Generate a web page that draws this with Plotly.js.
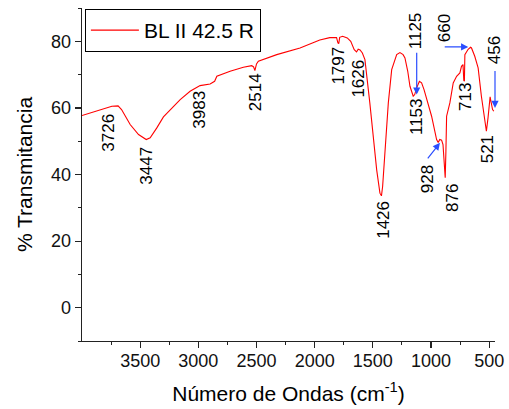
<!DOCTYPE html>
<html>
<head>
<meta charset="utf-8">
<script src="https://cdn.plot.ly/plotly-3.0.1.min.js"></script>
<style>html,body{margin:0;padding:0;background:#fff;}#chart{width:509px;height:409px;}</style>
</head>
<body>
<div id="chart"></div>
<script>
// Spectrum: wavenumber (cm-1) and transmittance (%)
const wavenumber = [4000,3872,3743,3690,3660,3586,3514,3448,3414,3357,3300,3156,3071,2985,2899,2860,2841,2727,2613,2541,2525,2514,2500,2484,2326,2126,1956,1870,1812,1800,1793,1785,1760,1720,1690,1660,1640,1626,1610,1590,1568,1526,1496,1467,1439,1426,1416,1396,1367,1338,1295,1267,1240,1224,1200,1181,1160,1153,1140,1124,1100,1081,1060,1038,995,952,938,925,909,897,885,878,872,866,838,809,780,752,738,725,718,713,709,681,660,652,624,595,567,540,524,510,500,492,485,471,460];
const transmittance = [57.7,59.0,60.5,60.6,59.5,55.0,52.0,50.5,51.0,54.0,57.3,62.5,65.0,66.7,67.2,68.0,69.5,71.0,72.2,72.7,72.3,71.2,73.2,74.0,76.0,78.0,80.4,81.1,81.1,79.5,79.3,81.2,81.5,81.0,80.0,77.5,76.8,77.6,77.4,76.5,74.5,61.5,51.4,41.4,34.4,33.6,36.4,46.4,61.5,71.5,76.0,76.6,76.0,75.0,71.0,66.5,63.8,63.5,64.0,66.0,68.0,67.5,65.5,63.0,57.5,50.5,49.6,50.5,50.3,49.0,42.0,39.0,47.0,57.5,61.5,67.5,69.5,70.5,72.5,73.0,68.2,68.0,76.0,77.6,78.2,78.0,75.5,72.0,63.5,56.0,53.0,57.0,61.0,63.3,62.0,59.5,59.0];
const seriesName = "BL II 42.5 R";

// Peak labels
const peakLabels = ["3726","3447","3983","2514","1797","1626","1426","1153","1125","928","876","660","713","521","456"];
const peakLabelX = [3775,3443,2993,2508,1791,1619,1404,1125,1138,1031,816,889,704,515,460];
const peakLabelY = [52.6,42.6,59.5,64.6,72.7,68.8,26.4,57.4,83.3,38.7,33.1,83.9,63.4,47.7,77.3];

// Blue arrows (tail -> head)
const arrowTailX = [1123,895,450,1038];
const arrowTailY = [77.0,78.3,71.5,44.4];
const arrowHeadX = [1123,680,450,923];
const arrowHeadY = [64.0,78.3,60.0,49.5];

const xTicks = [3500,3000,2500,2000,1500,1000,500];
const xMinor = [3750,3250,2750,2250,1750,1250,750];
const yTicks = [0,20,40,60,80];
const yMinor = [-10,10,30,50,70,90];

const FONT = "Arial, 'Liberation Sans', sans-serif";

const annotations = [];
peakLabels.forEach((t,i)=>{
  annotations.push({x:peakLabelX[i], y:peakLabelY[i], xref:'x', yref:'y', text:t, showarrow:false,
    textangle:-90, font:{family:FONT, size:17, color:'#000'}});
});
arrowTailX.forEach((_,i)=>{
  annotations.push({x:arrowHeadX[i], y:arrowHeadY[i], xref:'x', yref:'y', ax:arrowTailX[i], ay:arrowTailY[i],
    axref:'x', ayref:'y', text:'', showarrow:true, arrowhead:2, arrowsize:1.2, arrowwidth:1.2, arrowcolor:'#2a4dff'});
});

const trace = {x:wavenumber, y:transmittance, type:'scatter', mode:'lines', name:seriesName,
  line:{color:'#ff0000', width:1.1}};

const axisCommon = {showgrid:false, zeroline:false, showline:true, linecolor:'#222', linewidth:1.3,
  ticks:'outside', ticklen:6, tickwidth:1.2, tickcolor:'#222', tickfont:{family:FONT, size:18, color:'#111'}};

const layout = {
  width:509, height:409,
  margin:{l:82, r:14, t:8, b:68},
  paper_bgcolor:'#fff', plot_bgcolor:'#fff',
  showlegend:true,
  legend:{x:0.007, y:0.997, xanchor:'left', yanchor:'top', bgcolor:'#fff', bordercolor:'#000', borderwidth:1,
    itemwidth:48, font:{family:FONT, size:21, color:'#000'}},
  xaxis:Object.assign({}, axisCommon, {range:[4000,450], tickmode:'array', tickvals:xTicks, ticklabelstandoff:-3,
    minor:{tickmode:'array', tickvals:xMinor, ticks:'outside', ticklen:3, tickcolor:'#222', tickwidth:1},
    title:{text:'Número de Ondas (cm<sup>-1</sup>)', font:{family:FONT, size:21, color:'#000'}, standoff:16}}),
  yaxis:Object.assign({}, axisCommon, {range:[-10,90], tickmode:'array', tickvals:yTicks,
    minor:{tickmode:'array', tickvals:yMinor, ticks:'outside', ticklen:3, tickcolor:'#222', tickwidth:1},
    title:{text:'% Transmitancia', font:{family:FONT, size:21, color:'#000'}, standoff:12}}),
  annotations:annotations
};

Plotly.newPlot('chart', [trace], layout, {displayModeBar:false, staticPlot:true});
</script>
</body>
</html>
